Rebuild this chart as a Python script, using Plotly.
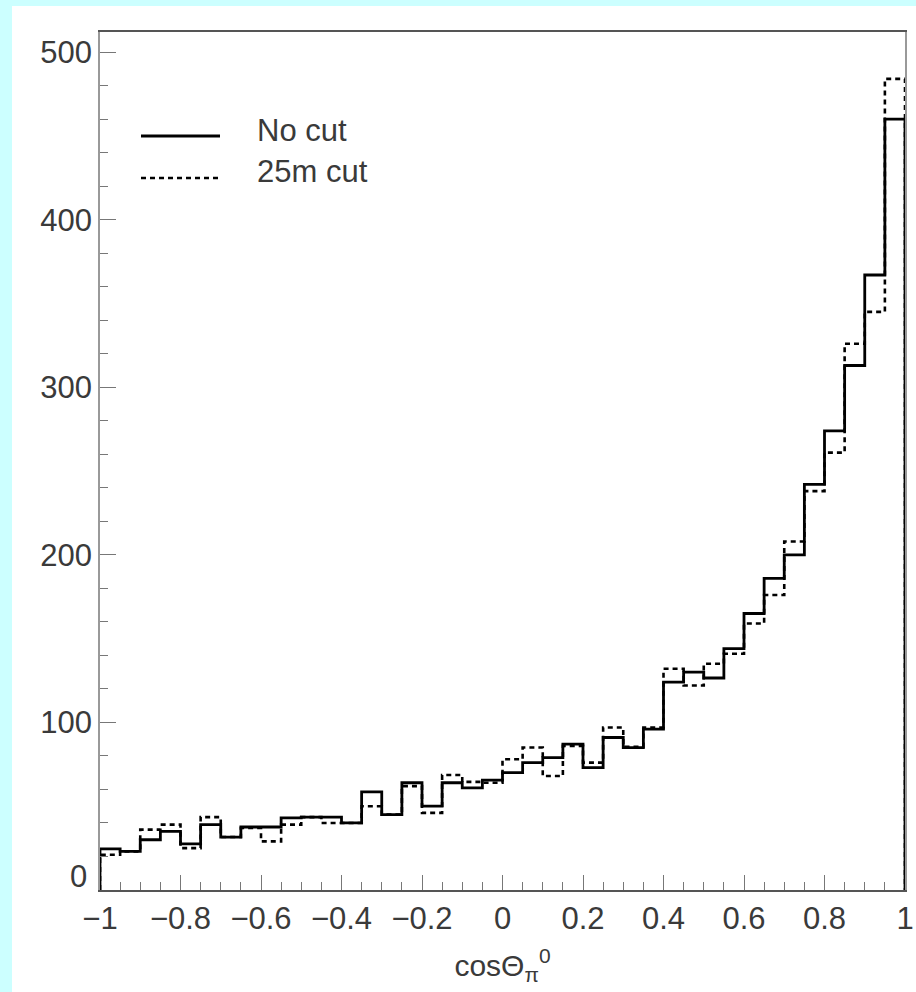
import numpy as np
import plotly.graph_objects as go

# 40 bins of cos(theta_pi0) from -1 to 1
bin_edges = np.linspace(-1.0, 1.0, 41)

no_cut = [24.5, 23, 30, 35, 27.5, 39, 31.6, 37.6, 37.6, 43,
          43.5, 43.5, 40, 58.5, 45, 64, 50, 64, 61, 65.6,
          70, 76, 79, 87, 73, 91, 85, 96, 124, 130,
          126.5, 144, 165, 186, 200, 242, 274, 313, 367, 460]

cut_25m = [21, 23, 36, 39, 25, 43.5, 31.6, 37, 29, 39,
           43.5, 40, 40, 50, 45, 62, 46, 68.6, 64.5, 64,
           78, 85, 68, 86, 76, 97, 85.5, 97, 132, 122,
           135, 141, 159, 176, 208, 238, 261, 326, 345, 484]

x_ticks = [-1, -0.8, -0.6, -0.4, -0.2, 0, 0.2, 0.4, 0.6, 0.8, 1]
y_ticks = [0, 100, 200, 300, 400, 500]
# the zero label is placed separately, raised clear of the x-axis labels
y_ticktext = [""] + [str(v) for v in y_ticks[1:]]

FONT = "Liberation Sans, Arial, Helvetica, sans-serif"
TEXT_COLOR = "#3a3a3a"


def step_outline(edges, counts):
    """Closed histogram outline: up from zero at the first edge, down at the last."""
    xs = [edges[0]] + list(edges[:-1]) + [edges[-1], edges[-1]]
    ys = [0] + list(counts) + [counts[-1], 0]
    return xs, ys


fig = go.Figure()

xs_d, ys_d = step_outline(bin_edges, cut_25m)
fig.add_trace(go.Scatter(x=xs_d, y=ys_d, mode="lines", line_shape="hv",
                         line=dict(color="black", width=2.6, dash="5px,4px"),
                         name="25m cut", showlegend=False, hoverinfo="skip"))

xs_s, ys_s = step_outline(bin_edges, no_cut)
fig.add_trace(go.Scatter(x=xs_s, y=ys_s, mode="lines", line_shape="hv",
                         line=dict(color="black", width=2.8),
                         name="No cut", showlegend=False, hoverinfo="skip"))

W, H = 916, 992
L, R, T, B = 100, 11, 32, 102
pw, ph = W - L - R, H - T - B


def px(x):
    return (x - L) / pw


def py(y):
    return (H - B - y) / ph


# white page panel on the cyan border
fig.add_shape(type="rect", xref="paper", yref="paper",
              x0=px(12), x1=px(W + 5), y0=py(H + 5), y1=py(6),
              fillcolor="white", line_width=0, layer="below")

# hand-drawn legend
fig.add_shape(type="line", xref="paper", yref="paper",
              x0=px(141), x1=px(220), y0=py(136), y1=py(136),
              line=dict(color="black", width=2.8))
fig.add_shape(type="line", xref="paper", yref="paper",
              x0=px(141), x1=px(218), y0=py(178), y1=py(178),
              line=dict(color="black", width=2.6, dash="5px,4px"))
fig.add_annotation(text="No cut", xref="paper", yref="paper",
                   x=px(255), y=py(130), xanchor="left", yanchor="middle",
                   showarrow=False, font=dict(family=FONT, size=31, color=TEXT_COLOR))
fig.add_annotation(text="25m cut", xref="paper", yref="paper",
                   x=px(255), y=py(171), xanchor="left", yanchor="middle",
                   showarrow=False, font=dict(family=FONT, size=31, color=TEXT_COLOR))

# y-axis zero label, sitting just above the corner
fig.add_annotation(text=str(y_ticks[0]), xref="paper", yref="y",
                   x=px(89), y=y_ticks[0], xanchor="right", yanchor="middle",
                   yshift=14, showarrow=False,
                   font=dict(family=FONT, size=31, color=TEXT_COLOR))

fig.update_layout(
    width=W, height=H,
    margin=dict(l=L, r=R, t=T, b=B, pad=0, autoexpand=False),
    paper_bgcolor="#ccffff",
    plot_bgcolor="white",
    showlegend=False,
    font=dict(family=FONT, size=31, color=TEXT_COLOR),
)

fig.update_xaxes(
    range=[-1, 1],
    automargin=False,
    tickvals=x_ticks,
    ticks="inside", ticklen=15, tickwidth=1, tickcolor="#777",
    minor=dict(dtick=0.05, tick0=-1, ticks="inside", ticklen=8, tickcolor="#777"),
    showgrid=False, zeroline=False,
    showline=True, linecolor="#555", linewidth=1.5, mirror=True,
    tickfont=dict(family=FONT, size=31, color=TEXT_COLOR),
    title=dict(text="cosΘ<sub>π</sub><sup>0</sup>",
               font=dict(family=FONT, size=30, color=TEXT_COLOR), standoff=20),
)

fig.update_yaxes(
    range=[0, 512],
    automargin=False,
    tickvals=y_ticks, ticktext=y_ticktext,
    ticks="inside", ticklen=16, tickwidth=1, tickcolor="#777",
    minor=dict(dtick=20, ticks="inside", ticklen=8, tickcolor="#777"),
    showgrid=False, zeroline=False,
    showline=True, linecolor="#999", linewidth=1.5, mirror=True,
    tickfont=dict(family=FONT, size=31, color=TEXT_COLOR),
)

fig.write_html("out.html")
